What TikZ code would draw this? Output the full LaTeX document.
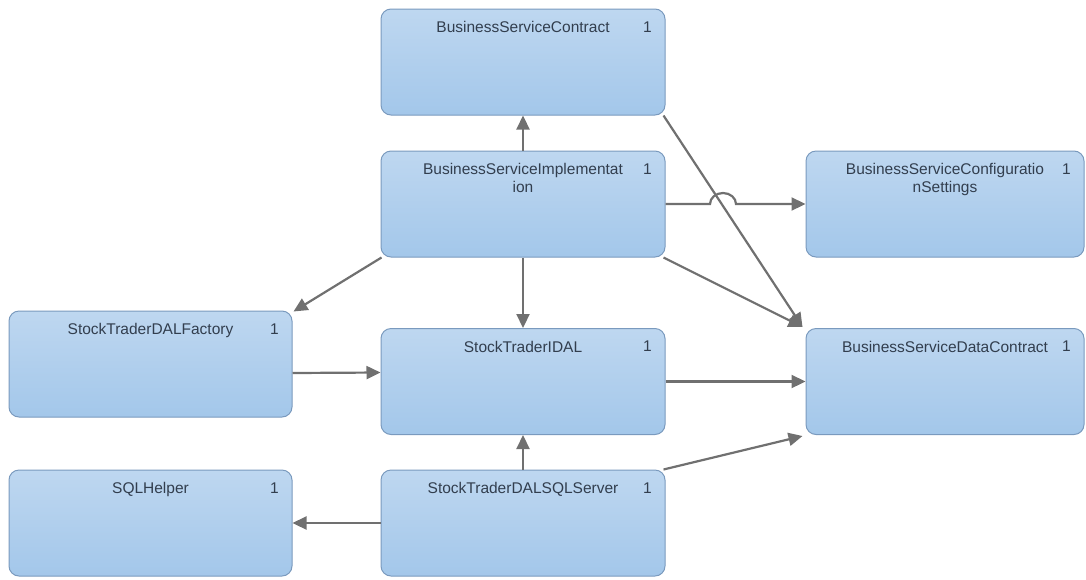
\documentclass[tikz,border=0pt]{standalone}
\usepackage{fontspec}
\setmainfont{Liberation Sans}
\usetikzlibrary{arrows.meta,calc}
\definecolor{boxtop}{RGB}{190,215,240}
\definecolor{boxbot}{RGB}{163,199,234}
\definecolor{boxline}{RGB}{122,154,190}
\definecolor{conncol}{RGB}{112,112,112}
\definecolor{txtcol}{RGB}{50,62,78}
\tikzset{
  box/.style={draw=boxline, line width=1pt, rounded corners=10pt,
    top color=boxtop, bottom color=boxbot, minimum height=106pt, inner sep=0pt},
  midbox/.style={box, minimum width=284pt},
  rightbox/.style={box, minimum width=278pt},
  leftbox/.style={box, minimum width=283pt},
  lbl/.style={anchor=north, inner sep=0pt, align=center, text=txtcol,
    font=\fontsize{15.5}{18}\selectfont},
  conn/.style={draw=conncol, line width=2.2pt,
    -{Triangle[length=14pt,width=13pt]}},
}
\begin{document}
\begin{tikzpicture}[x=1pt,y=-1pt]
\useasboundingbox (0,0) rectangle (1086,579);
% boxes
\node[midbox]   (bsc)  at (523,62)    {};
\node[midbox]   (bsi)  at (523,204)   {};
\node[rightbox] (cfg)  at (945,204)   {};
\node[leftbox]  (fac)  at (150.5,364) {};
\node[midbox]   (idal) at (523,381.5) {};
\node[rightbox] (dc)   at (945,381.5) {};
\node[leftbox]  (sqlh) at (150.5,523) {};
\node[midbox]   (sqls) at (523,523)   {};
% labels
\node[lbl] (bscT)  at ([yshift=-13pt]bsc.north)  {BusinessServiceContract};
\node[lbl] (bsiT)  at ([yshift=-13pt]bsi.north)  {BusinessServiceImplementat\\ion};
\node[lbl] (cfgT)  at ([yshift=-13pt]cfg.north)  {BusinessServiceConfiguratio\\nSettings};
\node[lbl] (facT)  at ([yshift=-13pt]fac.north)  {StockTraderDALFactory};
\node[lbl] (idalT) at ([yshift=-13pt]idal.north) {StockTraderIDAL};
\node[lbl] (dcT)   at ([yshift=-13pt]dc.north)   {BusinessServiceDataContract};
\node[lbl] (sqlhT) at ([yshift=-13pt]sqlh.north) {SQLHelper};
\node[lbl] (sqlsT) at ([yshift=-13pt]sqls.north) {StockTraderDALSQLServer};
\foreach \b in {bsc,bsi,cfg,fac,idal,dc,sqlh,sqls}
  \node[lbl] (\b N) at ([xshift=-18pt,yshift=-13pt]\b.north east) {1};
% connectors
\draw[conn] (bsi.north) -- (bsc.south);
\draw[conn] ([xshift=-2pt]bsc.south east) -- ([xshift=-3pt,yshift=1pt]dc.north west);
\coordinate (j1) at (710,204);
\coordinate (j2) at (736,204);
\draw[conn] (bsi.east) -- (j1) arc[start angle=180,end angle=360,x radius=13,y radius=11] -- (j2) -- (cfg.west);
\draw[conn] ([xshift=-2pt]bsi.south east) -- ([xshift=-3pt,yshift=1pt]dc.north west);
\draw[conn] ([xshift=1pt]bsi.south west) -- ([xshift=1pt,yshift=-1pt]fac.north east);
\draw[conn] (bsi.south) -- (idal.north);
\draw[conn] ([yshift=-9pt]fac.east) -- ([yshift=9pt]idal.west);
\draw[conn] (idal.east) -- (dc.west);
\draw[conn] (sqls.north) -- (idal.south);
\draw[conn] ([xshift=-2pt]sqls.north east) -- ([xshift=-3pt,yshift=-1pt]dc.south west);
\draw[conn] (sqls.west) -- (sqlh.east);
\end{tikzpicture}
\end{document}
